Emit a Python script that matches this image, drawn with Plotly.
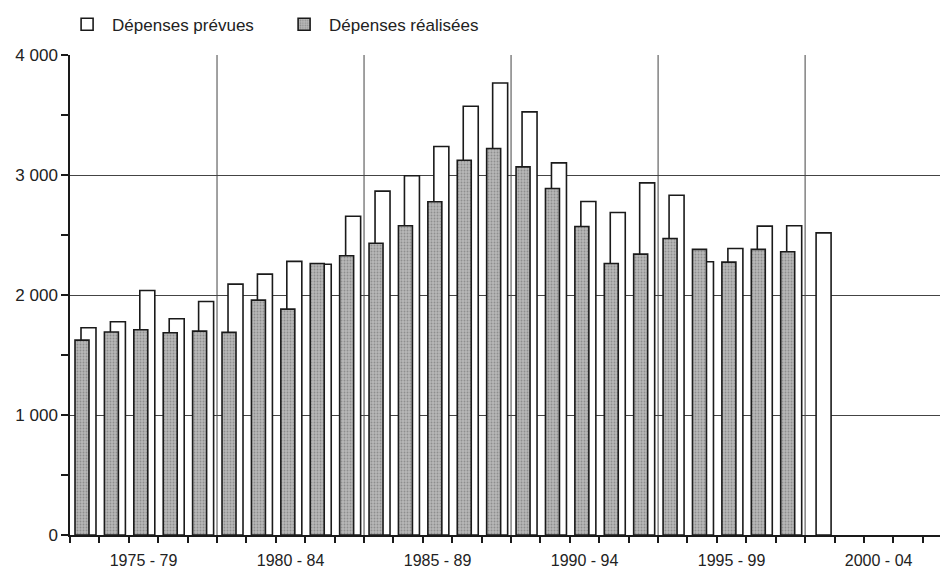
import plotly.graph_objects as go

years = list(range(1975, 2001))
planned = [1728, 1778, 2039, 1803, 1947, 2092, 2175, 2281, 2258, 2658,
           2867, 2995, 3239, 3575, 3769, 3528, 3103, 2781, 2689, 2936,
           2833, 2278, 2389, 2575, 2578, 2519]
realized = [1625, 1692, 1711, 1686, 1700, 1689, 1958, 1883, 2264, 2328,
            2433, 2578, 2778, 3125, 3222, 3069, 2889, 2572, 2264, 2342,
            2472, 2381, 2275, 2381, 2361, None]
period_centers = [1977, 1982, 1987, 1992, 1997, 2002]
period_labels = ["1975 - 79", "1980 - 84", "1985 - 89", "1990 - 94", "1995 - 99", "2000 - 04"]
period_bounds = [1979.5, 1984.5, 1989.5, 1994.5, 1999.5]
year_bounds = [y + 0.5 for y in range(1974, 2005)]
y_ticks = [0, 1000, 2000, 3000, 4000]
y_labels = ["0", "1 000", "2 000", "3 000", "4 000"]
y_minor = [500, 1500, 2500, 3500]

FONT = "Liberation Sans, Arial, sans-serif"

fig = go.Figure()
fig.add_trace(go.Bar(
    x=years, y=planned, name="Dépenses prévues",
    offset=-0.126, width=0.51,
    marker=dict(color="white", line=dict(color="#1a1a1a", width=1.6)),
))
fig.add_trace(go.Bar(
    x=years, y=realized, name="Dépenses réalisées",
    offset=-0.33, width=0.476,
    marker=dict(color="#b0b0b0", line=dict(color="#1a1a1a", width=1.6),
                pattern=dict(shape=".", fillmode="replace", fgcolor="#8e8e8e",
                             bgcolor="#b8b8b8", size=3, solidity=0.3)),
))

for xb in period_bounds:
    fig.add_shape(type="line", xref="x", yref="paper", x0=xb, x1=xb, y0=0, y1=1,
                  line=dict(color="#444", width=1), layer="below")

fig.update_layout(
    width=940, height=562,
    margin=dict(l=62, r=0, t=47, b=35, autoexpand=False),
    paper_bgcolor="white", plot_bgcolor="white",
    barmode="overlay",
    font=dict(family=FONT, size=17, color="#222"),
    showlegend=True,
    legend=dict(orientation="h", x=-0.009, xanchor="left", y=1.063, yanchor="middle",
                font=dict(size=17), itemwidth=40, traceorder="normal",
                entrywidth=162, entrywidthmode="pixels",
                bgcolor="rgba(0,0,0,0)"),
    xaxis=dict(
        range=[1974.5, 2004.36], automargin=False,
        tickmode="array", tickvals=period_centers, ticktext=period_labels,
        tickfont=dict(size=16),
        ticks="", showgrid=False, zeroline=False,
        showline=True, linecolor="#1a1a1a", linewidth=1.5,
        ticklabelstandoff=10,
        minor=dict(tickmode="array", tickvals=year_bounds, ticks="outside",
                   ticklen=6, tickcolor="#1a1a1a", tickwidth=1.5, showgrid=False),
    ),
    yaxis=dict(
        range=[0, 4002], automargin=False,
        tickmode="array", tickvals=y_ticks, ticktext=y_labels,
        ticks="outside", ticklen=7, tickcolor="#1a1a1a", tickwidth=1.5,
        showgrid=True, gridcolor="#444", gridwidth=1, zeroline=False,
        showline=True, linecolor="#1a1a1a", linewidth=1.5,
        minor=dict(tickmode="array", tickvals=y_minor, ticks="outside",
                   ticklen=7, tickcolor="#1a1a1a", tickwidth=1.5, showgrid=False),
    ),
)

fig.write_html("out.html")
